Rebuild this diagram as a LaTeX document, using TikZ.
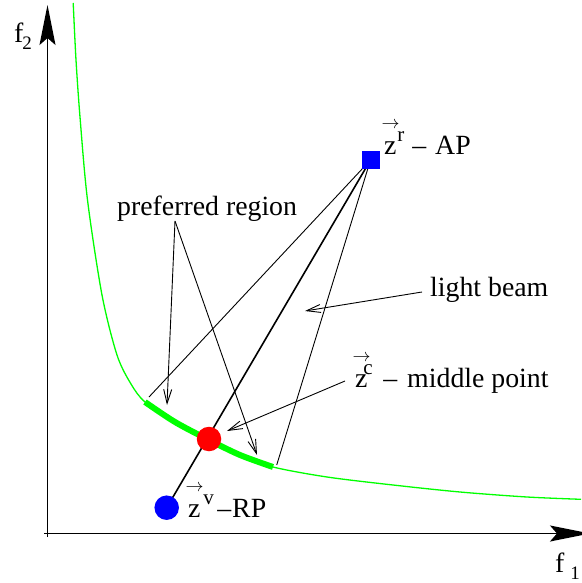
\documentclass[tikz,border=0pt]{standalone}
\usepackage{fontspec}
\setmainfont{Liberation Serif}
\usepackage{graphicx}
\usetikzlibrary{arrows.meta}
\definecolor{pgreen}{RGB}{0,255,0}
\newcommand\vz[2]{\makebox[0pt][l]{\kern-2.5pt\raisebox{26pt}[0pt][0pt]{\resizebox{18pt}{!}{$\rightarrow$}}}z\kern#2\raisebox{12.5pt}{\fontsize{21}{21}\selectfont #1}}
\begin{document}
\begin{tikzpicture}[x=1pt,y=-1pt,
  lbl/.style={font=\fontsize{27.8}{33}\selectfont, inner sep=0pt, anchor=base west},
  axisline/.style={line width=1.6pt, -{Stealth[length=40pt,width=16pt,inset=7pt]}},
  thinline/.style={line width=0.9pt},
  beamline/.style={line width=1.6pt},
  pointer/.style={line width=0.9pt, -{Straight Barb[length=14pt,width=8pt]}},
  curveline/.style={pgreen, line width=1.3pt},
  prefline/.style={pgreen, line width=6pt},
  dot/.style={circle, inner sep=0pt, minimum size=24.5pt, draw=none},
  apbox/.style={rectangle, fill=blue, inner sep=0pt, minimum size=18pt}
]
\useasboundingbox (0,0) rectangle (581,583);
% axes
\coordinate (yb) at (47.5,537);
\coordinate (yt) at (47.5,5);
\coordinate (xb) at (44,533.5);
\coordinate (xt) at (590,533.5);
\draw[axisline] (yb) -- (yt);
\draw[axisline] (xb) -- (xt);
\node[lbl] (f2) at (14,43) {f\kern-1pt\raisebox{-6.7pt}{\fontsize{19}{19}\selectfont 2}};
\node[lbl] (f1) at (555,572.5) {f\kern6pt\raisebox{-7pt}{\fontsize{19}{19}\selectfont 1}};
% Pareto curve
\draw[curveline] plot[smooth] coordinates {(73.2,3) (76,60) (80,117) (87.5,200) (102,295) (117,355) (131,384) (145,402) (175,422) (209,440) (240,455) (273,467) (327,477) (393,485) (460,492) (527,497) (581,499.3)};
\draw[prefline] plot[smooth] coordinates {(145,402) (175,422) (209,440) (240,455) (273,467)};
% points
\coordinate (ap) at (370.5,160);
\coordinate (rp) at (166.7,507.7);
\coordinate (mp) at (209,439);
\coordinate (cl) at (149,397);
\coordinate (cr) at (276.7,465);
\draw[beamline] (rp) -- (ap);
\draw[thinline] (ap) -- (cl);
\draw[thinline] (ap) -- (cr);
\node[dot, fill=blue] (rpdot) at (rp) {};
\node[dot, fill=red] (mpdot) at (mp) {};
\node[apbox] (apsq) at (ap) {};
% labels
\node[lbl] (aplbl) at (384,154) {\vz{r}{0.8pt}\hspace{8pt}–\hspace{9pt}AP};
\node[lbl] (mplbl) at (355,387) {\vz{c}{-4.2pt}\hspace{10.7pt}–\hspace{10pt}middle point};
\node[lbl] (rplbl) at (188,517) {\vz{v}{2.8pt}\hspace{3.5pt}–\hspace{1pt}RP};
\node[lbl] (preflbl) at (117,215) {preferred region};
\node[lbl] (beamlbl) at (430,296) {light beam};
% pointers
\coordinate (pa) at (175,221);
\coordinate (pt1) at (167,405);
\coordinate (pt2) at (257,455);
\coordinate (lbs) at (422,292);
\coordinate (lbt) at (305,311);
\coordinate (mps) at (345,381);
\coordinate (mpt) at (227,431);
\draw[pointer] (pa) -- (pt1);
\draw[pointer] (pa) -- (pt2);
\draw[pointer] (lbs) -- (lbt);
\draw[pointer] (mps) -- (mpt);
\end{tikzpicture}
\end{document}
